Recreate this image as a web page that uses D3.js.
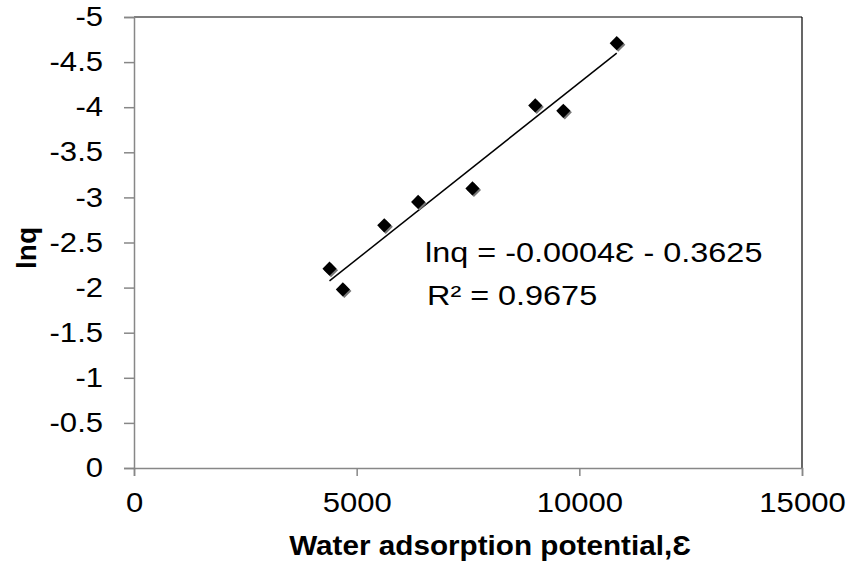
<!DOCTYPE html>
<html>
<head>
<meta charset="utf-8">
<script src="https://cdn.jsdelivr.net/npm/d3@7"></script>
<style>
  body { margin: 0; background: #fff; }
  text { font-family: "Liberation Sans", Arial, sans-serif; fill: #000; }
  .wide { transform-box: fill-box; transform-origin: center; transform: scaleX(1.15); }
  .wide-r { transform-box: fill-box; transform-origin: right center; transform: scaleX(1.15); }
  .wide-l { transform-box: fill-box; transform-origin: left center; transform: scaleX(1.2); }
  .title { transform-box: fill-box; transform-origin: center; transform: scaleX(1.06); }
</style>
</head>
<body>
<svg id="canvas" width="855" height="563"></svg>
<script>
// potential values (x) and lnq values (y)
const potential = [4390, 4690, 5620, 6380, 7600, 9010, 9640, 10840];
const lnq = [-2.21, -1.98, -2.69, -2.95, -3.10, -4.02, -3.96, -4.71];
const xTicks = [0, 5000, 10000, 15000];
const yTicks = [0, -0.5, -1, -1.5, -2, -2.5, -3, -3.5, -4, -4.5, -5];
const equationText = 'lnq = -0.0004Ɛ - 0.3625';
const r2Text = 'R² = 0.9675';

const svg = d3.select('#canvas');
const plotLeft = 134, plotRight = 802, plotTop = 17, plotBottom = 468;

const x = d3.scaleLinear().domain([0, 15000]).range([plotLeft, plotRight]);
const y = d3.scaleLinear().domain([0, -5]).range([plotBottom, plotTop]);

// frame: top and right borders black
svg.append('line').attr('x1', plotLeft).attr('x2', plotRight).attr('y1', plotTop).attr('y2', plotTop)
    .attr('stroke', '#000').attr('stroke-width', 1.2);
svg.append('line').attr('x1', plotRight).attr('x2', plotRight).attr('y1', plotTop).attr('y2', plotBottom)
    .attr('stroke', '#000').attr('stroke-width', 1.2);

// axes
let xAxis = svg.append('g')
    .attr('transform', 'translate(0,' + plotBottom + ')')
    .call(d3.axisBottom(x).tickValues(xTicks).tickFormat(d => String(d)).tickSize(8).tickPadding(17));
let yAxis = svg.append('g')
    .attr('transform', 'translate(' + plotLeft + ',0)')
    .call(d3.axisLeft(y).tickValues(yTicks).tickFormat(d => String(d)).tickSize(10).tickPadding(21));

[xAxis, yAxis].forEach(ax => {
    ax.select('.domain').attr('stroke', '#878787').attr('stroke-width', 1.5);
    ax.selectAll('.tick line').attr('stroke', '#878787').attr('stroke-width', 1.5);
    ax.selectAll('.tick text').attr('font-size', 27).attr('fill', '#000')
        .style('font-family', '"Liberation Sans", Arial, sans-serif');
});
xAxis.selectAll('.tick text').attr('class', 'wide');
yAxis.selectAll('.tick text').attr('class', 'wide-r');

// least squares trend line
let mx = d3.mean(potential), my = d3.mean(lnq);
let sxy = d3.sum(potential, (v, i) => (v - mx) * (lnq[i] - my));
let sxx = d3.sum(potential, v => (v - mx) * (v - mx));
let slope = sxy / sxx;
let intercept = my - slope * mx;
let x0 = d3.min(potential), x1 = d3.max(potential);
svg.append('line')
    .attr('x1', x(x0)).attr('y1', y(slope * x0 + intercept))
    .attr('x2', x(x1)).attr('y2', y(slope * x1 + intercept))
    .attr('stroke', '#000').attr('stroke-width', 1.5);

// diamond markers
const diamond = d3.symbol().type(d3.symbolSquare).size(100);
let points = potential.map((v, i) => [v, lnq[i]]);
svg.selectAll('path.shadow')
    .data(points)
    .enter()
    .append('path')
    .attr('class', 'shadow')
    .attr('d', diamond)
    .attr('fill', '#777')
    .attr('transform', d => 'translate(' + (x(d[0]) + 1.5) + ',' + (y(d[1]) + 1.5) + ') rotate(45)');
svg.selectAll('path.pt')
    .data(points)
    .enter()
    .append('path')
    .attr('class', 'pt')
    .attr('d', diamond)
    .attr('fill', '#000')
    .attr('transform', d => 'translate(' + x(d[0]) + ',' + y(d[1]) + ') rotate(45)');

// equation labels
svg.append('text').attr('class', 'wide-l').attr('x', 425).attr('y', 262).attr('font-size', 27).text(equationText);
svg.append('text').attr('class', 'wide-l').attr('x', 427).attr('y', 305).attr('font-size', 27).text(r2Text);

// axis titles
svg.append('text')
    .attr('class', 'title')
    .attr('x', 490).attr('y', 555)
    .attr('text-anchor', 'middle')
    .attr('font-size', 28).attr('font-weight', 'bold')
    .text('Water adsorption potential,Ɛ');
svg.append('text')
    .attr('transform', 'translate(36,248) rotate(-90)')
    .attr('text-anchor', 'middle')
    .attr('font-size', 28).attr('font-weight', 'bold')
    .text('lnq');
</script>
</body>
</html>
